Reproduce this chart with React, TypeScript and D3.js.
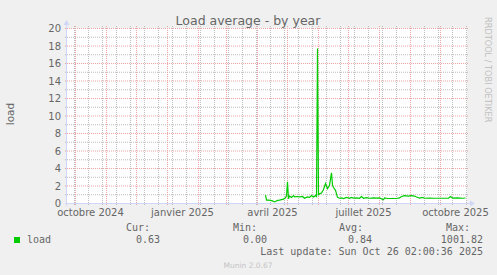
import React from "react";
import * as d3 from "d3";

const W = 497;
const H = 275;

const title = "Load average - by year";
const yLabel = "load";
const seriesName = "load";
const frMonths = ["janvier","février","mars","avril","mai","juin","juillet","août","septembre","octobre","novembre","décembre"];
const yTicks = [0, 2, 4, 6, 8, 10, 12, 14, 16, 18, 20];
const yMinor = [1, 3, 5, 7, 9, 11, 13, 15, 17, 19];
const legendHeaders = ["Cur:", "Min:", "Avg:", "Max:"];
const legendValues = ["0.63", "0.00", "0.84", "1001.82"];
const lastUpdate = "Last update: Sun Oct 26 02:00:36 2025";
const version = "Munin 2.0.67";
const watermark = "RRDTOOL / TOBI OETIKER";

const dates = [
  "2025-04-09","2025-04-10","2025-04-12","2025-04-14","2025-04-16","2025-04-18","2025-04-21","2025-04-23",
  "2025-04-27","2025-04-29","2025-04-30","2025-05-01","2025-05-02","2025-05-03","2025-05-05","2025-05-07",
  "2025-05-08","2025-05-11","2025-05-13","2025-05-16","2025-05-18","2025-05-21","2025-05-23","2025-05-25",
  "2025-05-27","2025-05-29","2025-05-30","2025-05-31","2025-06-01","2025-06-02","2025-06-04","2025-06-06",
  "2025-06-08","2025-06-10","2025-06-12","2025-06-14","2025-06-15","2025-06-16","2025-06-18","2025-06-20",
  "2025-06-22","2025-06-24","2025-06-26","2025-06-29","2025-07-02","2025-07-04","2025-07-06","2025-07-09",
  "2025-07-12","2025-07-14","2025-07-16","2025-07-19","2025-07-22","2025-07-26","2025-07-29","2025-08-01",
  "2025-08-05","2025-08-06","2025-08-09","2025-08-13","2025-08-18","2025-08-21","2025-08-23","2025-08-26",
  "2025-08-30","2025-09-02","2025-09-05","2025-09-07","2025-09-10","2025-09-13","2025-09-15","2025-09-20",
  "2025-09-25","2025-09-30","2025-10-05","2025-10-09","2025-10-11","2025-10-13","2025-10-18","2025-10-23",
  "2025-10-26"
];
const loadValues = [
  0.95,0.38,0.38,0.35,0.3,0.18,0.35,0.38,
  0.5,0.65,0.9,2.47,0.55,0.85,0.7,0.9,
  0.75,0.8,0.76,0.8,0.6,0.76,0.7,0.9,
  0.75,0.9,0.8,17.7,1.0,1.1,1.2,1.6,
  2.28,1.71,2.09,3.5,2.1,1.83,1.5,0.7,
  0.6,0.64,0.57,0.7,0.6,0.7,0.62,0.64,
  0.6,0.8,0.6,0.66,0.6,0.64,0.62,0.64,
  0.42,0.64,0.57,0.57,0.57,0.64,0.8,0.9,
  0.85,0.9,0.85,0.75,0.62,0.7,0.6,0.62,
  0.6,0.6,0.6,0.6,0.8,0.62,0.64,0.6,
  0.63
];

const DAY = 864e5;
const startTime = new Date(Date.UTC(2024, 8, 22, 12));
const endTime = new Date(startTime.getTime() + 400 * DAY);
const minorRef = Date.UTC(2024, 9, 14);

export default function App() {
  const x = d3.scaleTime().domain([startTime, endTime]).range([67, 467]);
  const y = d3.scaleLinear().domain([0, 20]).range([203.5, 28.5]);

  const months = d3.utcMonth.range(startTime, endTime);
  const labelMonths = d3.utcMonth.every(3)!.range(startTime, endTime);
  const minors = d3.utcMonday
    .range(startTime, endTime)
    .filter((d) => Math.abs(Math.round((d.getTime() - minorRef) / (7 * DAY))) % 2 === 0);

  const data = dates.map((s, i) => ({ t: new Date(s + "T00:00:00Z"), v: loadValues[i] }));
  const line = d3
    .line<{ t: Date; v: number }>()
    .x((d) => x(d.t))
    .y((d) => y(d.v));

  const font = "DejaVu Sans, sans-serif";
  const mono = "DejaVu Sans Mono, monospace";
  const textCol = "#666666";
  const axisCol = "#CFD6F8";
  const minorCol = "#bdbdbd";
  const majorCol = "#eba5a5";
  const colX = [150, 257, 363, 470];
  const valX = [160, 267, 372, 483];

  return (
    <svg width={W} height={H} style={{ position: "absolute", left: 0, top: 0 }}>
      <rect x={0} y={0} width={W} height={H} fill="#F0F0F0" />
      <rect x={67} y={28} width={400} height={175.5} fill="#FFFFFF" />
      {/* minor horizontal grid */}
      {yMinor.map((v) => (
        <line key={"hm" + v} x1={65} x2={469} y1={y(v)} y2={y(v)} stroke={minorCol} strokeWidth={1} strokeDasharray="1,1" />
      ))}
      {/* minor vertical grid */}
      {minors.map((d, i) => (
        <line key={"vm" + i} x1={Math.floor(x(d)) + 0.5} x2={Math.floor(x(d)) + 0.5} y1={26} y2={206} stroke={minorCol} strokeWidth={1} strokeDasharray="1,1" />
      ))}
      {/* major horizontal grid */}
      {yTicks.map((v) => (
        <line key={"hM" + v} x1={65} x2={469} y1={y(v)} y2={y(v)} stroke={majorCol} strokeWidth={1} strokeDasharray="1,1" />
      ))}
      {/* major vertical grid */}
      {months.map((d, i) => (
        <line key={"vM" + i} x1={Math.floor(x(d)) + 0.5} x2={Math.floor(x(d)) + 0.5} y1={26} y2={206} stroke={majorCol} strokeWidth={1} strokeDasharray="1,1" />
      ))}
      {/* axes */}
      <line x1={65} x2={470} y1={203.5} y2={203.5} stroke={axisCol} strokeWidth={1} />
      <path d="M470,200.5 L475,203.5 L470,206.5 Z" fill={axisCol} />
      <line x1={66.5} x2={66.5} y1={206} y2={24} stroke={axisCol} strokeWidth={1} />
      <path d="M63.5,25 L66.5,20 L69.5,25 Z" fill={axisCol} />
      {/* data line */}
      <path d={line(data) || ""} fill="none" stroke="#00CC00" strokeWidth={1.2} />
      {/* y tick labels */}
      {yTicks.map((v) => (
        <text key={"yl" + v} x={61} y={y(v) + 3.5} textAnchor="end" fontFamily={font} fontSize={10} fill={textCol}>
          {v}
        </text>
      ))}
      {/* x labels */}
      {labelMonths.map((d, i) => (
        <text key={"xl" + i} x={x(new Date(d.getTime() + 15 * DAY))} y={216} textAnchor="middle" fontFamily={font} fontSize={10} fill={textCol}>
          {frMonths[d.getUTCMonth()] + " " + d.getUTCFullYear()}
        </text>
      ))}
      {/* title */}
      <text x={248} y={25} textAnchor="middle" fontFamily={font} fontSize={12.5} fill={textCol}>
        {title}
      </text>
      {/* y label */}
      <text transform="translate(14,114) rotate(-90)" textAnchor="middle" fontFamily={font} fontSize={10.5} fill={textCol}>
        {yLabel}
      </text>
      {/* watermark */}
      <text transform="translate(485,17) rotate(90)" textAnchor="start" fontFamily={font} fontSize={8.2} fill="#c0c0c0">
        {watermark}
      </text>
      {/* legend */}
      <rect x={14} y={237} width={6} height={6} fill="#00CC00" />
      <text x={27} y={243} fontFamily={mono} fontSize={10} fill={textCol}>
        {seriesName}
      </text>
      {legendHeaders.map((h, i) => (
        <text key={"lh" + i} x={colX[i]} y={231} textAnchor="end" fontFamily={mono} fontSize={10} fill={textCol}>
          {h}
        </text>
      ))}
      {legendValues.map((v, i) => (
        <text key={"lv" + i} x={valX[i]} y={243} textAnchor="end" fontFamily={mono} fontSize={10} fill={textCol}>
          {v}
        </text>
      ))}
      <text x={483} y={255} textAnchor="end" fontFamily={mono} fontSize={10} fill={textCol}>
        {lastUpdate}
      </text>
      <text x={248} y={268} textAnchor="middle" fontFamily={font} fontSize={7.5} fill="#c4c4c4">
        {version}
      </text>
    </svg>
  );
}
